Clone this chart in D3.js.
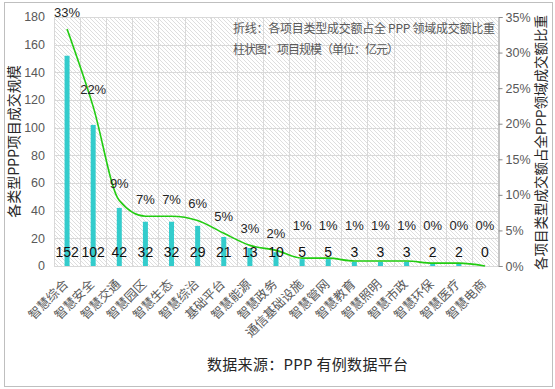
<!DOCTYPE html>
<html lang="zh">
<head>
  <meta charset="UTF-8">
  <title>PPP项目成交规模</title>
  <style>
    html, body { margin: 0; padding: 0; background: #fff; }
    svg { display: block; font-family: 'Liberation Sans', Arial, 'Noto Sans CJK SC', sans-serif; }
    .cjk { font-family: 'Noto Sans CJK SC', sans-serif; }
  </style>
</head>
<body>
  <svg width="555" height="389"></svg>

  <script src="https://d3js.org/d3.v7.min.js"></script>
  <script>
  // data
  const categories = ["智慧综合", "智慧安全", "智慧交通", "智慧园区", "智慧生态", "智慧综治", "基础平台",
    "智慧能源", "智慧政务", "通信基础设施", "智慧管网", "智慧教育", "智慧照明", "智慧市政",
    "智慧环保", "智慧医疗", "智慧电商"];
  const scale = [152, 102, 42, 32, 32, 29, 21, 13, 10, 5, 5, 3, 3, 3, 2, 2, 0];
  const share = [33.3, 22.4, 9.2, 7.0, 7.0, 6.4, 4.6, 2.9, 2.2, 1.1, 1.1, 0.7, 0.7, 0.7, 0.4, 0.4, 0.0];
  const shareLabels = ["33%", "22%", "9%", "7%", "7%", "6%", "5%", "3%", "2%", "1%", "1%", "1%", "1%", "1%", "0%", "0%", "0%"];
  const leftTicks = [0, 20, 40, 60, 80, 100, 120, 140, 160, 180];
  const rightTicks = [0, 5, 10, 15, 20, 25, 30, 35];

  const svg = d3.select("svg");
  const m = {left: 54, right: 498, top: 17, bottom: 266};

  // outer frame
  svg.append("rect").attr("x", 4.5).attr("y", 2.5).attr("width", 548).attr("height", 384)
    .attr("fill", "#fff").attr("stroke", "#bfbfbf");

  // hatch pattern
  const pat = svg.append("defs").append("pattern")
    .attr("id", "hatch").attr("patternUnits", "userSpaceOnUse")
    .attr("width", 4).attr("height", 4);
  pat.append("path").attr("d", "M-1,-1L5,5M-1,3L1,5M3,-1L5,1")
    .attr("stroke", "#d6d6d6").attr("stroke-width", 0.8);

  const x = d3.scaleBand().domain(categories).range([m.left, m.right]);
  const y = d3.scaleLinear().domain([0, 180]).range([m.bottom, m.top]);
  const y2 = d3.scaleLinear().domain([0, 35]).range([m.bottom, m.top]);

  svg.append("rect").attr("x", m.left).attr("y", m.top)
    .attr("width", m.right - m.left).attr("height", m.bottom - m.top)
    .attr("fill", "url(#hatch)");

  // grid
  svg.append("g").selectAll("line").data(leftTicks).join("line")
    .attr("x1", m.left).attr("x2", m.right)
    .attr("y1", d => Math.round(y(d)) + 0.5).attr("y2", d => Math.round(y(d)) + 0.5)
    .attr("stroke", "#d9d9d9");
  svg.append("g").selectAll("line").data(categories).join("line")
    .attr("x1", d => Math.round(x(d)) + 0.5).attr("x2", d => Math.round(x(d)) + 0.5)
    .attr("y1", m.top).attr("y2", m.bottom)
    .attr("stroke", "#d9d9d9");

  // left axis labels
  svg.append("g").selectAll("text").data(leftTicks).join("text")
    .attr("x", 45).attr("y", d => y(d)).attr("dy", "0.35em")
    .attr("text-anchor", "end").attr("font-size", 12.5).attr("fill", "#595959")
    .text(d => d);

  // right axis
  const ax = svg.append("g").attr("transform", `translate(${m.right + 0.5},0)`)
    .call(d3.axisRight(y2).tickValues(rightTicks).tickSize(4).tickFormat(d => d + "%"));
  ax.select(".domain").attr("stroke", "#8c8c8c");
  ax.selectAll(".tick line").attr("stroke", "#8c8c8c");
  ax.selectAll(".tick text").attr("font-size", 12.5).attr("fill", "#595959")
    .attr("font-family", "'Liberation Sans', Arial, sans-serif");

  // bars
  const bw = 5;
  svg.append("g").selectAll("rect").data(scale).join("rect")
    .attr("x", (d, i) => x(categories[i]) + x.bandwidth() / 2 - bw / 2)
    .attr("y", d => y(d)).attr("width", bw).attr("height", d => m.bottom - y(d))
    .attr("fill", "#33cccc");

  // line
  const cx = i => x(categories[i]) + x.bandwidth() / 2;
  svg.append("path").datum(share)
    .attr("d", d3.line().x((d, i) => cx(i)).y(d => y2(d)).curve(d3.curveMonotoneX))
    .attr("fill", "none").attr("stroke", "#22cc11").attr("stroke-width", 1.6);

  // bar value labels
  svg.append("g").selectAll("text").data(scale).join("text")
    .attr("x", (d, i) => cx(i)).attr("y", 252).attr("dy", "0.35em")
    .attr("text-anchor", "middle").attr("font-size", 14).attr("fill", "#111")
    .text(d => d);

  // share labels (small ones lifted clear of the bar labels)
  svg.append("g").selectAll("text").data(share).join("text")
    .attr("x", (d, i) => cx(i)).attr("y", d => d < 2 ? 225 : y2(d) - 17).attr("dy", "0.35em")
    .attr("text-anchor", "middle").attr("font-size", 13).attr("fill", "#262626")
    .text((d, i) => shareLabels[i]);

  // category labels
  svg.append("g").selectAll("text").data(categories).join("text")
    .attr("class", "cjk")
    .attr("transform", (d, i) => `translate(${cx(i) + 2},285) rotate(-45)`)
    .attr("text-anchor", "end").attr("font-size", 12.5).attr("fill", "#595959")
    .text(d => d);

  // axis titles
  svg.append("text").attr("class", "cjk")
    .attr("transform", `translate(19,${(m.top + m.bottom) / 2}) rotate(-90)`)
    .attr("text-anchor", "middle").attr("font-size", 14).attr("fill", "#262626")
    .text("各类型PPP项目成交规模");
  svg.append("text").attr("class", "cjk")
    .attr("transform", `translate(546,${(m.top + m.bottom) / 2 + 1}) rotate(-90)`)
    .attr("text-anchor", "middle").attr("font-size", 13.5).attr("fill", "#262626")
    .text("各项目类型成交额占全PPP领域成交额比重");

  // notes
  svg.append("text").attr("class", "cjk")
    .attr("x", 233).attr("y", 33).attr("font-size", 12).attr("fill", "#595959")
    .attr("textLength", 262).attr("lengthAdjust", "spacing")
    .text("折线：各项目类型成交额占全 PPP 领域成交额比重");
  svg.append("text").attr("class", "cjk")
    .attr("x", 233).attr("y", 54).attr("font-size", 12).attr("fill", "#595959")
    .attr("textLength", 166).attr("lengthAdjust", "spacing")
    .text("柱状图：项目规模（单位：亿元）");

  svg.append("text").attr("class", "cjk")
    .attr("x", 207).attr("y", 370).attr("font-size", 15).attr("fill", "#262626")
    .attr("textLength", 201).attr("lengthAdjust", "spacing")
    .text("数据来源：PPP 有例数据平台");
  </script>
</body>
</html>
